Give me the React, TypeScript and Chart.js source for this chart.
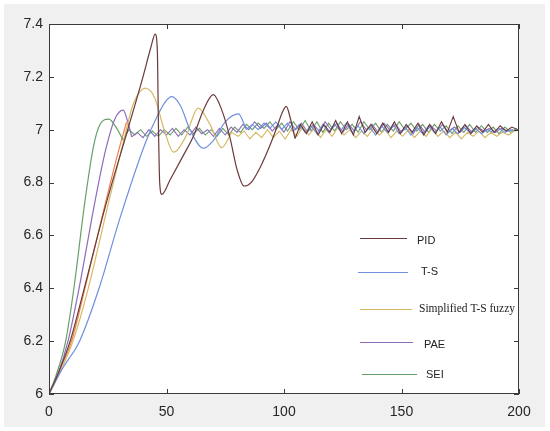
import React, { useEffect, useRef } from "react";
import { Chart, registerables } from "chart.js";

Chart.register(...registerables);

// ---- data ----
const xTicks = [0, 50, 100, 150, 200];
const yTickLabels = ["6", "6.2", "6.4", "6.6", "6.8", "7", "7.2", "7.4"];
const NOISE_STEP = 2.5;

const pidX = [0, 4, 9, 15, 24, 33.5, 40, 43.3, 45.2, 46.1, 46.6, 47.1, 48, 51.5, 57, 61.4, 65.7, 69.9, 73.5, 77, 80, 83, 86, 90, 94, 97, 99.5, 101, 102.5, 104.7];
const pidY = [6, 6.08, 6.2, 6.4, 6.71, 7.0, 7.2, 7.31, 7.362, 7.3, 7.0, 6.8, 6.755, 6.81, 6.9, 6.974, 7.074, 7.133, 7.075, 6.97, 6.85, 6.787, 6.8, 6.86, 6.94, 7.01, 7.07, 7.088, 7.05, 6.967];
const pidNoiseStart = 107;
const pidNoise = [7.02, 6.985, 7.03, 6.98, 7.02, 6.99, 7.035, 6.985, 7.03, 6.98, 7.05, 6.99, 7.02, 6.985, 7.025, 6.99, 7.03, 6.985, 7.02, 6.99, 7.025, 6.98, 7.02, 6.985, 7.03, 6.99, 7.05, 6.99, 7.02, 6.985, 7.015, 6.99, 7.02, 6.99, 7.015, 6.995, 7.01, 7.0];

const tsX = [0, 6, 13, 21.3, 30, 41, 46, 49.5, 52.2, 56, 60, 65.7, 70, 75, 80.6, 84];
const tsY = [6, 6.1, 6.2, 6.4, 6.66, 6.95, 7.05, 7.105, 7.125, 7.09, 7.0, 6.93, 6.96, 7.03, 7.06, 7.0];
const tsNoiseStart = 86.5;
const tsNoise = [7.02, 7.0, 7.025, 7.005, 7.03, 7.0, 7.025, 6.995, 7.02, 6.99, 7.015, 6.985, 7.02, 6.99, 7.02, 6.995, 7.025, 6.99, 7.015, 6.985, 7.01, 6.98, 7.015, 6.99, 7.02, 6.985, 7.01, 6.98, 7.01, 6.985, 7.015, 6.99, 7.01, 6.98, 7.005, 6.985, 7.01, 6.99, 7.005, 6.985, 7.0, 6.99, 7.005, 6.99, 7.0, 6.995];

const simpX = [0, 4, 10.2, 16.7, 25.5, 31, 36, 41, 45, 49, 53, 58, 63.5, 68.5, 73.5, 77.7];
const simpY = [6, 6.07, 6.2, 6.4, 6.73, 6.93, 7.1, 7.157, 7.12, 7.0, 6.915, 6.97, 7.082, 7.02, 6.932, 6.99];
const simpNoiseStart = 80.5;
const simpNoise = [6.975, 6.995, 6.965, 6.99, 6.97, 7.0, 6.97, 6.995, 6.965, 7.0, 6.975, 7.01, 6.98, 7.005, 6.97, 7.0, 6.975, 7.01, 6.98, 7.0, 6.97, 6.995, 6.975, 7.005, 6.98, 7.0, 6.97, 6.995, 6.975, 7.0, 6.97, 6.995, 6.975, 7.005, 6.975, 6.995, 6.97, 6.99, 6.965, 6.99, 6.975, 6.995, 6.97, 6.99, 6.975, 6.99, 6.98, 6.995];

const paeX = [0, 4, 8.1, 12.8, 19.6, 24, 28, 31.6, 33.5, 35.2];
const paeY = [6, 6.08, 6.2, 6.4, 6.73, 6.92, 7.04, 7.074, 7.03, 6.973];
const paeNoiseStart = 37.5;
const paeNoise = [6.99, 6.97, 7.0, 6.975, 7.0, 6.98, 7.005, 6.975, 7.0, 6.98, 7.01, 6.985, 7.0, 6.975, 7.005, 6.98, 7.01, 6.99, 7.02, 7.0, 7.03, 7.005, 7.025, 6.995, 7.02, 6.99, 7.03, 7.0, 7.025, 6.99, 7.02, 6.995, 7.03, 7.0, 7.025, 6.99, 7.02, 6.995, 7.03, 7.0, 7.02, 6.99, 7.025, 7.0, 7.02, 6.99, 7.015, 6.985, 7.02, 6.99, 7.015, 6.995, 7.02, 6.99, 7.01, 6.99, 7.015, 6.99, 7.01, 6.995, 7.005, 6.99, 7.005, 6.995, 7.0];

const seiX = [0, 3, 7.1, 10.6, 15.3, 19, 21.7, 25.5, 28.5, 31.6];
const seiY = [6, 6.07, 6.2, 6.4, 6.73, 6.94, 7.02, 7.04, 7.01, 6.96];
const seiNoiseStart = 34;
const seiNoise = [7.0, 6.98, 7.0, 6.975, 6.995, 6.975, 7.0, 6.98, 7.005, 6.98, 7.01, 6.985, 7.005, 6.98, 7.0, 6.975, 7.005, 6.98, 7.01, 6.99, 7.02, 7.0, 7.025, 7.005, 7.03, 7.0, 7.025, 6.995, 7.03, 7.0, 7.035, 6.995, 7.03, 6.99, 7.025, 6.995, 7.03, 7.0, 7.02, 6.99, 7.03, 7.0, 7.025, 6.99, 7.02, 6.995, 7.03, 7.0, 7.025, 6.995, 7.02, 6.99, 7.02, 6.995, 7.015, 6.985, 7.015, 6.99, 7.02, 6.99, 7.015, 6.99, 7.01, 6.985, 7.01, 6.99, 7.005];

const extraX = [0, 4, 9.6, 15.3, 23.4, 29, 33];
const extraY = [6, 6.08, 6.2, 6.4, 6.7, 6.9, 7.03];

const seriesLabels = ["PID", "T-S", "Simplified T-S fuzzy", "PAE", "SEI"];
const seriesColors = ["#6a3a3a", "#6f8fe0", "#d6b865", "#8f6cb8", "#67a067"];
const extraColor = "#ef8050";

function pts(xs: number[], ys: number[]) {
  return xs.map((x, i) => ({ x, y: ys[i] }));
}
function noisePts(lastX: number, lastY: number, start: number, ys: number[]) {
  const out = [{ x: lastX, y: lastY }];
  ys.forEach((y, i) => {
    const x = start + i * NOISE_STEP;
    if (x <= 200) out.push({ x, y });
  });
  return out;
}

const bgPlugin = {
  id: "bg",
  beforeDraw(chart: any) {
    const { ctx, chartArea: a } = chart;
    ctx.save();
    ctx.fillStyle = "#ffffff";
    ctx.fillRect(0, 0, chart.width, chart.height);
    ctx.fillStyle = "#f0f0f0";
    ctx.fillRect(4, 4, 541, 423);
    ctx.fillStyle = "#ffffff";
    ctx.fillRect(a.left, a.top, a.right - a.left, a.bottom - a.top);
    ctx.restore();
  },
};

const framePlugin = {
  id: "frame",
  afterDatasetsDraw(chart: any) {
    const { ctx, chartArea: a, scales } = chart;
    ctx.save();
    ctx.strokeStyle = "#3a3a3a";
    ctx.lineWidth = 1;
    ctx.strokeRect(Math.round(a.left) + 0.5, Math.round(a.top) + 0.5, Math.round(a.right - a.left) - 1, Math.round(a.bottom - a.top) - 1);
    const L = 5;
    ctx.beginPath();
    xTicks.forEach((v) => {
      const px = Math.round(scales.x.getPixelForValue(v)) + 0.5;
      ctx.moveTo(px, a.bottom);
      ctx.lineTo(px, a.bottom - L);
      ctx.moveTo(px, a.top);
      ctx.lineTo(px, a.top + L);
    });
    yTickLabels.forEach((l) => {
      const py = Math.round(scales.y.getPixelForValue(parseFloat(l))) + 0.5;
      ctx.moveTo(a.left, py);
      ctx.lineTo(a.left + L, py);
      ctx.moveTo(a.right, py);
      ctx.lineTo(a.right - L, py);
    });
    ctx.stroke();
    ctx.restore();
  },
};

const legendLayout = [
  { x1: 360, x2: 407, y: 238, tx: 417, ty: 241, font: "11px 'Liberation Sans', Arial, sans-serif" },
  { x1: 358, x2: 408, y: 272, tx: 421, ty: 272, font: "11px 'Liberation Sans', Arial, sans-serif" },
  { x1: 360, x2: 412, y: 309, tx: 419, ty: 309, font: "11.5px 'Liberation Serif', 'Times New Roman', serif" },
  { x1: 360, x2: 413, y: 342, tx: 424, ty: 345, font: "11px 'Liberation Sans', Arial, sans-serif" },
  { x1: 362, x2: 417, y: 374, tx: 426, ty: 375, font: "11px 'Liberation Sans', Arial, sans-serif" },
];

const legendPlugin = {
  id: "customLegend",
  afterDraw(chart: any) {
    const { ctx } = chart;
    ctx.save();
    legendLayout.forEach((e, i) => {
      ctx.strokeStyle = seriesColors[i];
      ctx.lineWidth = 1.2;
      ctx.beginPath();
      ctx.moveTo(e.x1, e.y + 0.5);
      ctx.lineTo(e.x2, e.y + 0.5);
      ctx.stroke();
      ctx.fillStyle = "#222222";
      ctx.font = e.font;
      ctx.textBaseline = "middle";
      ctx.textAlign = "left";
      ctx.fillText(seriesLabels[i], e.tx, e.ty);
    });
    ctx.restore();
  },
};

export default function App() {
  const ref = useRef<HTMLCanvasElement | null>(null);
  useEffect(() => {
    if (!ref.current) return;
    const smooth = { borderWidth: 1.2, pointRadius: 0, cubicInterpolationMode: "monotone" as const, fill: false };
    const zig = { borderWidth: 1.1, pointRadius: 0, tension: 0, fill: false };
    const series = [
      { x: pidX, y: pidY, ns: pidNoiseStart, n: pidNoise },
      { x: tsX, y: tsY, ns: tsNoiseStart, n: tsNoise },
      { x: simpX, y: simpY, ns: simpNoiseStart, n: simpNoise },
      { x: paeX, y: paeY, ns: paeNoiseStart, n: paeNoise },
      { x: seiX, y: seiY, ns: seiNoiseStart, n: seiNoise },
    ];
    const datasets: any[] = [];
    series.forEach((s, i) => {
      const lx = s.x[s.x.length - 1];
      const ly = s.y[s.y.length - 1];
      datasets.push({ ...smooth, label: seriesLabels[i], data: pts(s.x, s.y), borderColor: seriesColors[i], order: i });
      datasets.push({ ...zig, label: seriesLabels[i] + " (steady)", data: noisePts(lx, ly, s.ns, s.n), borderColor: seriesColors[i], order: i });
    });
    datasets.push({ ...smooth, label: "extra", data: pts(extraX, extraY), borderColor: extraColor, order: 10 });

    const tickFont = { family: "'Liberation Sans', Arial, sans-serif", size: 14 };
    const chart = new Chart(ref.current, {
      type: "line",
      data: { datasets },
      plugins: [bgPlugin, framePlugin, legendPlugin],
      options: {
        animation: false,
        responsive: false,
        layout: { padding: { left: 0, top: 24, right: 31, bottom: 0 } },
        plugins: { legend: { display: false }, tooltip: { enabled: false } },
        scales: {
          x: {
            type: "linear",
            min: 0,
            max: 200,
            grid: { display: false, drawTicks: false },
            border: { display: false },
            afterBuildTicks: (sc: any) => { sc.ticks = xTicks.map((v) => ({ value: v })); },
            afterFit: (sc: any) => { sc.height = 37; },
            ticks: { color: "#262626", font: tickFont, padding: 10, maxRotation: 0, callback: (v: any) => String(v) },
          },
          y: {
            type: "linear",
            min: 6,
            max: 7.4,
            grid: { display: false, drawTicks: false },
            border: { display: false },
            afterBuildTicks: (sc: any) => { sc.ticks = yTickLabels.map((l) => ({ value: parseFloat(l) })); },
            afterFit: (sc: any) => { sc.width = 49; },
            ticks: {
              color: "#262626",
              font: tickFont,
              padding: 6,
              callback: (v: any) => {
                const idx = yTickLabels.findIndex((l) => Math.abs(parseFloat(l) - Number(v)) < 1e-6);
                return idx >= 0 ? yTickLabels[idx] : "";
              },
            },
          },
        },
      } as any,
    });
    return () => chart.destroy();
  }, []);
  return (
    <canvas
      ref={ref}
      width={550}
      height={431}
      style={{ position: "absolute", left: 0, top: 0, width: 550, height: 431, display: "block" }}
    />
  );
}
